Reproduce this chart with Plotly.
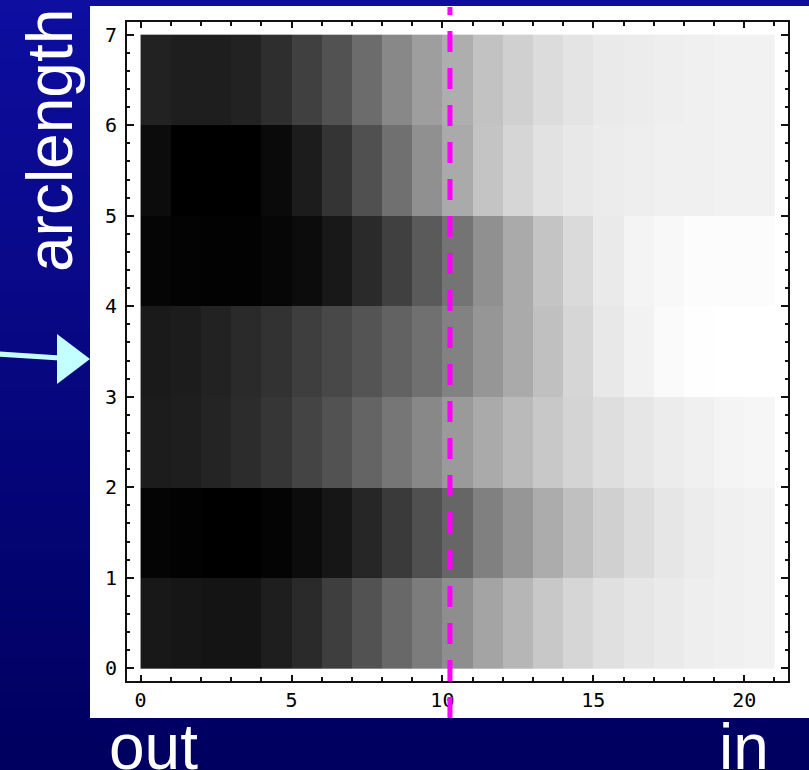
import plotly.graph_objects as go

# ---- data: gray level (0=black, 255=white) per cell; rows are arclength 0..6 (bottom to top), columns 0..20 (out -> in)
x_edges = list(range(0, 22))
y_edges = list(range(0, 8))

row0 = [24, 22, 20, 20, 30, 42, 62, 82, 104, 124, 142, 164, 182, 200, 214, 224, 230, 234, 238, 240, 242]
row1 = [4, 2, 0, 0, 4, 12, 22, 38, 58, 80, 102, 128, 150, 172, 192, 208, 220, 230, 236, 240, 242]
row2 = [28, 30, 36, 44, 54, 68, 82, 100, 118, 136, 154, 170, 186, 200, 212, 222, 230, 236, 240, 244, 246]
row3 = [26, 28, 34, 42, 50, 62, 72, 84, 98, 112, 130, 150, 170, 192, 214, 232, 242, 250, 254, 255, 255]
row4 = [5, 3, 2, 2, 6, 12, 24, 42, 64, 90, 116, 144, 170, 196, 218, 234, 244, 248, 252, 252, 252]
row5 = [12, 0, 0, 0, 10, 28, 52, 80, 112, 144, 170, 196, 214, 226, 232, 236, 238, 240, 240, 242, 242]
row6 = [34, 30, 30, 34, 46, 64, 82, 108, 136, 158, 174, 194, 208, 220, 228, 234, 236, 238, 240, 242, 242]
gray = [row0, row1, row2, row3, row4, row5, row6]

x_ticks = [0, 5, 10, 15, 20]
y_ticks = [0, 1, 2, 3, 4, 5, 6, 7]
marker_x = 10.25

W, H = 809, 770
ML, MR, MT, MB = 127, 21, 22, 89
PW, PH = W - ML - MR, H - MT - MB


def px(xp):
    return (xp - ML) / PW


def py(yp):
    return (H - MB - yp) / PH


fig = go.Figure()
fig.add_trace(go.Heatmap(
    x=x_edges, y=y_edges, z=gray,
    colorscale=[[0, "rgb(0,0,0)"], [1, "rgb(255,255,255)"]],
    zmin=0, zmax=255, showscale=False, zsmooth=False, hoverinfo="skip",
))

shapes = []
# background gradient (dark blue)
n = 77
for i in range(n):
    t = i / (n - 1)
    r = int(14 * (1 - t))
    g = int(14 * (1 - t))
    b = int(160 + (96 - 160) * t)
    y0p = i * H / n
    y1p = (i + 1) * H / n + 1
    shapes.append(dict(type="rect", xref="paper", yref="paper", layer="below",
                       x0=px(0), x1=px(W), y0=py(y1p), y1=py(y0p),
                       fillcolor=f"rgb({r},{g},{b})", line=dict(width=0)))
# white panel
shapes.append(dict(type="rect", xref="paper", yref="paper", layer="below",
                   x0=px(90), x1=px(W + 2), y0=py(718), y1=py(6),
                   fillcolor="white", line=dict(width=0)))
# dashed magenta marker
shapes.append(dict(type="line", xref="x", yref="paper", layer="above",
                   x0=marker_x, x1=marker_x, y0=py(718), y1=py(7),
                   line=dict(color="#ff00ff", width=5, dash="21px,16px")))
# cyan arrow
shapes.append(dict(type="line", xref="paper", yref="paper", layer="above",
                   x0=px(-2), y0=py(354), x1=px(60), y1=py(358),
                   line=dict(color="#c4ffff", width=5)))
shapes.append(dict(type="path", xref="paper", yref="paper", layer="above",
                   path=f"M {px(57)} {py(334)} L {px(90)} {py(359)} L {px(57)} {py(384)} Z",
                   fillcolor="#c4ffff", line=dict(width=0)))

big_font = dict(family="Liberation Sans, Arial, sans-serif", size=64, color="white")
annotations = [
    dict(text="arclength", xref="paper", yref="paper", x=px(50), y=py(141), textangle=-90,
         xanchor="center", yanchor="middle", showarrow=False, font=big_font),
    dict(text="out", xref="paper", yref="paper", x=px(107), y=py(709), xanchor="left", yanchor="top",
         showarrow=False, font=big_font),
    dict(text="in", xref="paper", yref="paper", x=px(771), y=py(709), xanchor="right", yanchor="top",
         showarrow=False, font=big_font),
]

tickfont = dict(family="DejaVu Sans Mono, monospace", size=20, color="#000")
fig.update_layout(
    width=W, height=H, margin=dict(l=ML, r=MR, t=MT, b=MB),
    paper_bgcolor="#000066", plot_bgcolor="white",
    shapes=shapes, annotations=annotations, showlegend=False,
    xaxis=dict(range=[-0.45, 21.45], tickvals=x_ticks, ticks="inside", ticklen=6, tickwidth=1.5,
               tickcolor="#111", showline=True, linecolor="#111", linewidth=2, mirror="ticks",
               showgrid=False, zeroline=False, tickfont=tickfont, ticklabelstandoff=0,
               minor=dict(dtick=1, tick0=0, ticks="inside", ticklen=4, tickwidth=1.5, tickcolor="#111", showgrid=False)),
    yaxis=dict(range=[-0.14, 7.14], tickvals=y_ticks, ticks="inside", ticklen=7, tickwidth=1.5,
               tickcolor="#111", showline=True, linecolor="#111", linewidth=2, mirror="ticks",
               showgrid=False, zeroline=False, tickfont=tickfont, ticklabelstandoff=4,
               minor=dict(dtick=0.2, tick0=0, ticks="inside", ticklen=3, tickwidth=1.5, tickcolor="#111", showgrid=False)),
)

fig.write_html("out.html")
